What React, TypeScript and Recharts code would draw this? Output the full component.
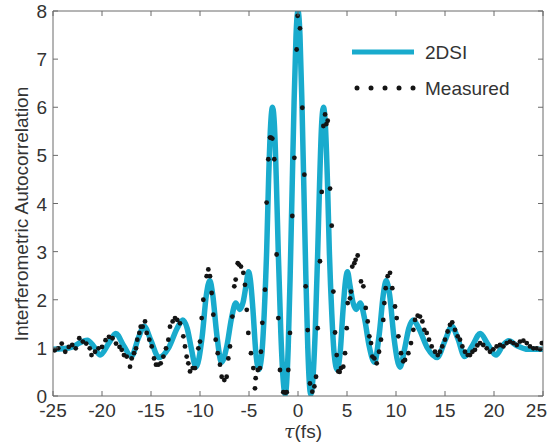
import React from 'react';
import { ComposedChart, Line, Scatter, XAxis, YAxis, Legend } from 'recharts';

// 2DSI reconstruction (smooth curve)
const tau2dsi = [
  -25, -24, -23, -22.3, -21.5, -20.9, -20.2, -19.3, -18.6, -17.8, -17.0, -16.3, -15.7, -15.0, -14.2, -13.2,
  -12.3, -11.75, -11.3, -10.9, -10.4, -9.8, -9.35, -9.0, -8.7, -8.3, -7.8, -7.25, -6.8, -6.35, -5.95, -5.6,
  -5.3, -5.05, -4.85, -4.6, -4.3, -4.0, -3.7, -3.45, -3.2, -3.0, -2.8, -2.6, -2.4, -2.2, -2.0, -1.75,
  -1.5, -1.3, -1.15, -1.0, -0.8, -0.6, -0.4, -0.2, 0,
  0.2, 0.4, 0.6, 0.8, 1.0, 1.15, 1.3, 1.5, 1.75, 2.0, 2.2, 2.4, 2.6, 2.8, 3.0, 3.2, 3.45, 3.7, 4.0,
  4.3, 4.6, 4.85, 5.05, 5.3, 5.6, 5.95, 6.35, 6.8, 7.25, 7.8, 8.3, 8.7, 9.0, 9.35, 9.8, 10.4, 10.9,
  11.3, 11.75, 12.3, 13.2, 14.2, 15.0, 15.7, 16.3, 17.0, 17.8, 18.6, 19.3, 20.2, 20.9, 21.5, 22.3, 23.5, 25,
];
const ac2dsi = [
  0.97, 0.98, 1.02, 1.1, 1.16, 1.05, 0.85, 1.1, 1.3, 1.05, 0.82, 1.2, 1.45, 1.15, 0.8, 1.0,
  1.42, 1.58, 1.4, 1.0, 0.6, 1.2, 2.1, 2.4, 2.1, 1.3, 0.7, 1.05, 1.6, 1.93, 1.8, 1.95,
  2.3, 2.58, 2.4, 1.8, 0.9, 0.55, 0.85, 1.7, 3.0, 4.5, 5.6, 6.0, 5.6, 4.4, 2.9, 1.3,
  0.3, 0.03, 0.3, 1.0, 2.5, 4.3, 6.1, 7.5, 8.0,
  7.5, 6.1, 4.3, 2.5, 1.0, 0.3, 0.03, 0.3, 1.3, 2.9, 4.4, 5.6, 6.0, 5.6, 4.5, 3.0, 1.7, 0.85, 0.55,
  0.9, 1.8, 2.4, 2.58, 2.3, 1.95, 1.8, 1.93, 1.6, 1.05, 0.7, 1.3, 2.1, 2.4, 2.1, 1.2, 0.6, 1.0,
  1.4, 1.58, 1.42, 1.0, 0.8, 1.15, 1.45, 1.2, 0.82, 1.05, 1.3, 1.1, 0.85, 1.05, 1.15, 1.05, 0.97, 0.97,
];

// Measured interferometric autocorrelation (dots)
const tauMeas = [
  -24.82, -24.46, -24.11, -23.75, -23.39, -23.04, -22.68, -22.32, -21.96, -21.61, -21.25, -21.07, -20.71, -20.36,
  -20.0, -19.64, -19.29, -18.93, -18.57, -18.21, -17.99, -17.76, -17.48, -17.14, -16.97, -16.73, -16.53, -16.4,
  -16.19, -16.05, -15.85, -15.61, -15.44, -15.17, -14.93, -14.69, -14.49, -14.26, -14.01, -13.74, -13.47, -13.23,
  -13.06, -12.79, -12.55, -12.32, -12.04, -11.7, -11.53, -11.36, -11.19, -11.02, -10.74, -10.51, -10.17, -10.0,
  -9.83, -9.66, -9.32, -9.15, -8.98, -8.81, -8.64, -8.4, -8.19, -7.96, -7.79, -7.52, -7.28, -7.11, -6.94, -6.7,
  -6.5, -6.36, -6.15, -6.02, -5.82, -5.58, -5.41, -5.23, -5.07, -4.8, -4.56, -4.39, -4.32, -4.1, -3.88, -3.78,
  -3.64, -3.37, -3.2, -3.03, -2.86, -2.76, -2.62, -2.42, -2.18, -2.01, -1.84, -1.5, -1.3, -1.15, -0.99, -0.82,
  -0.58, -0.37, -0.14, -0.04, 0.2, 0.44, 0.65, 0.78, 0.99, 1.22, 1.46, 1.67, 1.84, 2.01, 2.24, 2.42, 2.59, 2.76,
  2.9, 3.03, 3.27, 3.44, 3.61, 3.78, 3.95, 4.11, 4.25, 4.39, 4.62, 4.8, 4.97, 5.07, 5.31, 5.41, 5.54, 5.75, 5.88,
  6.09, 6.43, 6.67, 6.91, 7.11, 7.28, 7.45, 7.59, 7.79, 8.03, 8.27, 8.47, 8.7, 8.81, 8.95, 9.15, 9.39, 9.62, 9.9,
  10.07, 10.24, 10.51, 10.74, 10.92, 11.26, 11.53, 11.77, 11.94, 12.21, 12.45, 12.69, 12.89, 13.13, 13.37, 13.64,
  13.98, 14.26, 14.49, 14.72, 15.0, 15.27, 15.51, 15.74, 16.02, 16.29, 16.53, 16.77, 17.04, 17.32, 17.55, 17.8,
  18.06, 18.3, 18.57, 18.9, 19.26, 19.59, 19.93, 20.27, 20.61, 20.95, 21.3, 21.63, 21.97, 22.32, 22.65, 23.0,
  23.34, 23.67, 24.01, 24.36, 24.7, 24.88,
];
const acMeas = [
  0.95, 0.99, 1.09, 0.92, 1.02, 1.06, 0.99, 1.2, 1.13, 1.09, 0.99, 0.85, 0.92, 0.99,
  1.02, 1.16, 1.23, 1.2, 1.09, 1.02, 0.96, 0.85, 0.82, 0.61, 0.78, 0.89, 0.99, 1.17,
  1.31, 1.44, 1.44, 1.55, 1.31, 1.17, 1.03, 0.78, 0.65, 0.65, 0.68, 0.82, 0.99, 1.17,
  1.44, 1.55, 1.62, 1.58, 1.51, 1.24, 1.03, 0.82, 0.68, 0.51, 0.58, 0.58, 0.99, 1.13,
  1.62, 2.0, 2.49, 2.63, 2.49, 2.14, 1.69, 1.17, 0.89, 0.65, 0.4, 0.33, 0.4, 0.78, 1.03, 1.65,
  2.28, 2.42, 2.76, 2.73, 2.69, 2.56, 2.31, 1.79, 1.31, 0.89, 0.58, 0.16, 0.37, 0.54, 0.58, 0.92,
  1.52, 2.21, 4.02, 4.92, 5.37, 5.37, 5.35, 4.92, 2.94, 1.62, 0.54, 0.08, 0.07, 0.08, 0.54, 1.31,
  3.74, 4.95, 7.2, 7.9, 7.64, 5.99, 4.6, 2.28, 1.37, 0.26, 0.09, 0.2, 0.4, 1.41, 2.8, 4.24, 5.61, 5.85,
  5.65, 5.72, 4.31, 3.54, 2.17, 1.32, 0.85, 0.51, 0.5, 0.58, 0.61, 0.89, 1.41, 1.93, 2.03, 2.17, 2.69, 2.76, 2.83,
  2.92, 2.38, 2.28, 1.83, 1.55, 1.24, 1.1, 0.82, 0.78, 0.68, 0.92, 1.17, 1.58, 1.93, 2.24, 2.49, 2.56, 2.24, 1.86,
  1.62, 1.24, 0.89, 0.72, 0.75, 0.89, 1.1, 1.375, 1.58, 1.67, 1.65, 1.55, 1.375, 1.31, 1.17, 1.03,
  0.92, 0.85, 0.92, 1.03, 1.17, 1.34, 1.48, 1.53, 1.375, 1.24, 1.17, 1.03, 0.92, 0.85, 0.85, 0.92,
  0.96, 1.05, 1.1, 1.06, 0.99, 0.92, 0.97, 1.03, 1.06, 1.03, 1.1, 1.13, 1.1, 1.06, 1.13, 1.15,
  1.1, 1.03, 0.99, 0.99, 0.97, 1.1,
];

const xTicks = [-25, -20, -15, -10, -5, 0, 5, 10, 15, 20, 25];
const yTicks = [0, 1, 2, 3, 4, 5, 6, 7, 8];
const seriesNames = ['2DSI', 'Measured'];
const yTitle = 'Interferometric Autocorrelation';
const xTitleSymbol = 'τ';
const xTitleUnit = '(fs)';

const curveData = tau2dsi.map((x, i) => ({ x, y: ac2dsi[i] }));
const measData = tauMeas.map((x, i) => ({ x, y: acMeas[i] }));

const W = 548;
const H = 442;
const BLUE = '#19abcd';
const DOT = '#141414';
const FRAME = '#6b6b6b';
const TEXT = '#333333';
const FONT = '"Liberation Sans", Arial, Helvetica, sans-serif';
const FS = 19;
const TICK = 5;

const BottomTick = (p: any) => {
  const isLast = p.payload.value === xTicks[xTicks.length - 1];
  return (
    <g>
      <line x1={p.x} x2={p.x} y1={p.y} y2={p.y - TICK} stroke={FRAME} strokeWidth={1} />
      <text
        x={isLast ? p.x + 4 : p.x}
        y={p.y + 21}
        textAnchor={isLast ? 'end' : 'middle'}
        fill={TEXT}
        fontFamily={FONT}
        fontSize={FS}
      >
        {p.payload.value}
      </text>
    </g>
  );
};
const TopTick = (p: any) => (
  <line x1={p.x} x2={p.x} y1={p.y} y2={p.y + TICK} stroke={FRAME} strokeWidth={1} />
);
const LeftTick = (p: any) => (
  <g>
    <line x1={p.x} x2={p.x + TICK} y1={p.y} y2={p.y} stroke={FRAME} strokeWidth={1} />
    <text x={p.x - 6} y={p.y + 7} textAnchor="end" fill={TEXT} fontFamily={FONT} fontSize={FS}>
      {p.payload.value}
    </text>
  </g>
);
const RightTick = (p: any) => (
  <line x1={p.x} x2={p.x - TICK} y1={p.y} y2={p.y} stroke={FRAME} strokeWidth={1} />
);

const YTitle = () => (
  <text
    transform="translate(21,214) rotate(-90)"
    textAnchor="middle"
    dominantBaseline="central"
    fill={TEXT}
    fontFamily={FONT}
    fontSize={FS}
  >
    {yTitle}
  </text>
);
const XTitle = () => (
  <text x={303} y={438} textAnchor="middle" fill={TEXT} fontFamily={FONT} fontSize={FS}>
    <tspan fontFamily='"DejaVu Serif", "Liberation Serif", serif' fontStyle="italic">
      {xTitleSymbol}
    </tspan>
    <tspan>{xTitleUnit}</tspan>
  </text>
);

const LegendBox = () => (
  <svg width={190} height={72} style={{ display: 'block', overflow: 'visible' }}>
    <line x1={7} x2={69} y1={17} y2={17} stroke={BLUE} strokeWidth={5} />
    <text x={80} y={24} fill={TEXT} fontFamily={FONT} fontSize={FS}>
      {seriesNames[0]}
    </text>
    {[12, 26, 40, 54, 68].map((cx) => (
      <circle key={cx} cx={cx} cy={53} r={2.5} fill={DOT} />
    ))}
    <text x={80} y={60} fill={TEXT} fontFamily={FONT} fontSize={FS}>
      {seriesNames[1]}
    </text>
  </svg>
);

const Dot = (p: any) => <circle cx={p.cx} cy={p.cy} r={2.4} fill={DOT} />;

export default function App() {
  return (
    <div style={{ position: 'absolute', left: 0, top: 0, width: W, height: H, background: '#fff' }}>
      <ComposedChart width={W} height={H} margin={{ top: 0, right: 0, bottom: 0, left: 0 }}>
        <XAxis
          xAxisId="b"
          dataKey="x"
          type="number"
          domain={[-25, 25]}
          ticks={xTicks}
          interval={0}
          allowDataOverflow
          height={46}
          tickSize={0}
          tickMargin={0}
          tick={BottomTick}
          axisLine={{ stroke: FRAME }}
          label={<XTitle />}
        />
        <XAxis
          xAxisId="t"
          orientation="top"
          dataKey="x"
          type="number"
          domain={[-25, 25]}
          ticks={xTicks}
          interval={0}
          allowDataOverflow
          height={11}
          tickSize={0}
          tickMargin={0}
          tick={TopTick}
          axisLine={{ stroke: FRAME }}
        />
        <YAxis
          yAxisId="l"
          dataKey="y"
          type="number"
          domain={[0, 8]}
          ticks={yTicks}
          interval={0}
          allowDataOverflow
          width={53}
          tickSize={0}
          tickMargin={0}
          tick={LeftTick}
          axisLine={{ stroke: FRAME }}
          label={<YTitle />}
        />
        <YAxis
          yAxisId="r"
          orientation="right"
          dataKey="y"
          type="number"
          domain={[0, 8]}
          ticks={yTicks}
          interval={0}
          allowDataOverflow
          width={5}
          tickSize={0}
          tickMargin={0}
          tick={RightTick}
          axisLine={{ stroke: FRAME }}
        />
        <Legend
          layout="vertical"
          align="center"
          verticalAlign="middle"
          content={<LegendBox />}
          wrapperStyle={{ position: 'absolute', left: 345, top: 35, width: 190, height: 72 }}
        />
        <Line
          xAxisId="b"
          yAxisId="l"
          data={curveData}
          dataKey="y"
          type="monotone"
          stroke={BLUE}
          strokeWidth={5.5}
          dot={false}
          activeDot={false}
          isAnimationActive={false}
          name={seriesNames[0]}
        />
        <Scatter
          xAxisId="b"
          yAxisId="l"
          data={measData}
          dataKey="y"
          fill={DOT}
          shape={<Dot />}
          isAnimationActive={false}
          name={seriesNames[1]}
        />
      </ComposedChart>
    </div>
  );
}
